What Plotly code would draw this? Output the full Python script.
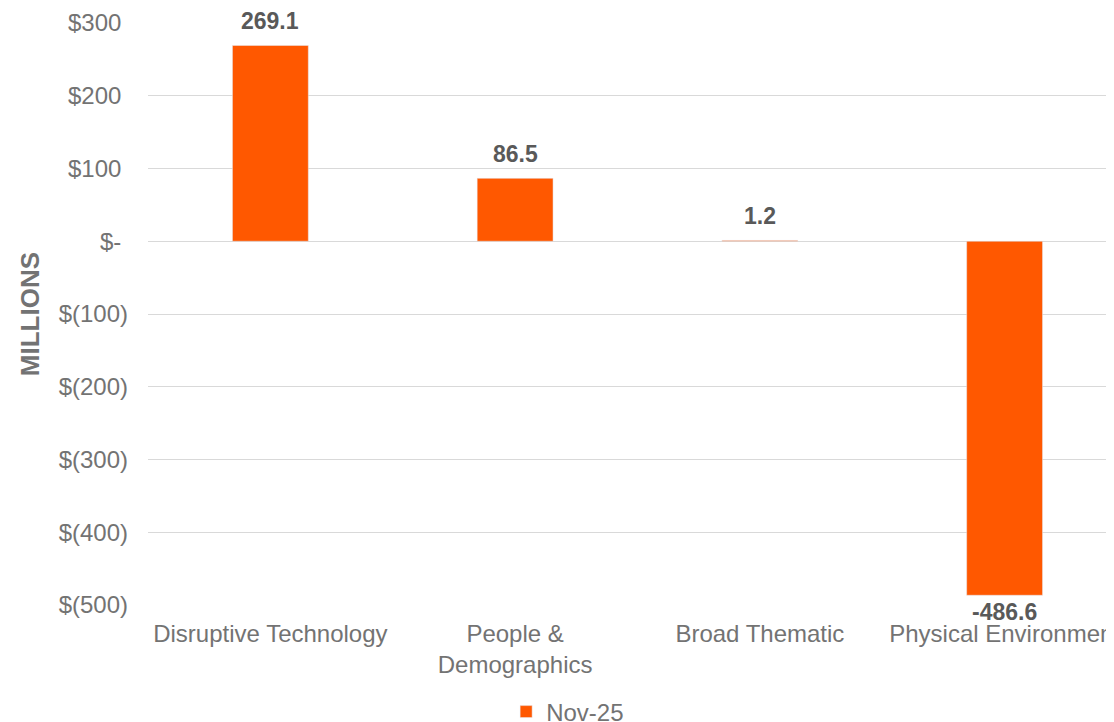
import plotly.graph_objects as go

categories = ["Disruptive Technology", "People &<br>Demographics", "Broad Thematic", "Physical Environment"]
values = [269.1, 86.5, 1.2, -486.6]
series_name = "Nov-25"
tick_vals = [300, 200, 100, 0, -100, -200, -300, -400, -500]
tick_text = ["$300 ", "$200 ", "$100 ", "$- ", "$(100)", "$(200)", "$(300)", "$(400)", "$(500)"]

FONT = "Liberation Sans, Arial, sans-serif"
GRAY = "#737373"
ORANGE = "#ff5800"

fig = go.Figure()
fig.add_trace(go.Bar(
    x=categories, y=values, name=series_name,
    marker=dict(color=ORANGE),
    width=0.31,
    cliponaxis=False,
))

annotations = []
for c, v in zip(categories, values):
    annotations.append(dict(
        x=c, y=v, xref="x", yref="y", text=f"<b>{v:.1f}</b>", showarrow=False,
        xanchor="center", yanchor="middle",
        yshift=24 if v >= 0 else -17,
        font=dict(family=FONT, size=23, color="#595959"),
    ))
annotations.append(dict(text="<b>MILLIONS</b>", xref="paper", yref="paper",
                        x=-0.122, y=0.5, textangle=-90, showarrow=False,
                        xanchor="center", yanchor="middle",
                        font=dict(family=FONT, size=26, color=GRAY)))

fig.update_layout(
    width=1106, height=714,
    margin=dict(l=140, r=0, t=15, b=117, autoexpand=False),
    paper_bgcolor="white", plot_bgcolor="white",
    font=dict(family=FONT, size=24, color=GRAY),
    showlegend=True,
    legend=dict(orientation="h", xref="container", yref="container",
                x=0.506, xanchor="center", y=0.014, yanchor="middle",
                font=dict(family=FONT, size=24, color=GRAY),
                itemwidth=30),
    xaxis=dict(range=[-0.5, 3.447], showgrid=False, showline=False,
               ticks="", ticklabelstandoff=12, automargin=False,
               tickfont=dict(family=FONT, size=24, color=GRAY)),
    yaxis=dict(range=[-500, 300], tickvals=tick_vals, ticktext=tick_text,
               showgrid=True, gridcolor="#d9d9d9", gridwidth=1.3,
               zeroline=True, zerolinecolor="#d9d9d9", zerolinewidth=1.3,
               showline=False, ticks="", ticklabelstandoff=19, automargin=False,
               tickfont=dict(family=FONT, size=24, color=GRAY)),
    annotations=annotations,
)

fig.write_html("out.html")
